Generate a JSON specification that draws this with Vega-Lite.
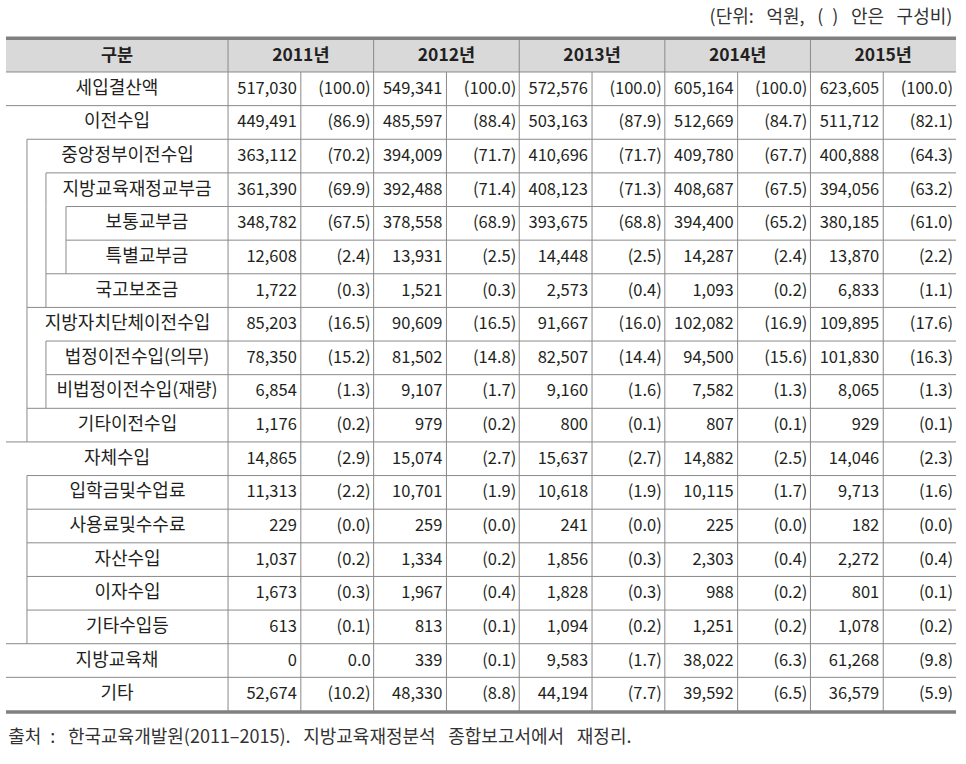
{
  "$schema": "https://vega.github.io/schema/vega-lite/v6.json",
  "width": 966,
  "height": 764,
  "autosize": {"type": "fit", "contains": "padding"},
  "padding": 0,
  "background": "white",
  "config": {"view": {"stroke": null}, "text": {"font": "Noto Sans CJK KR", "fontSize": 16.5, "color": "#231f20", "baseline": "middle"}},
  "datasets": {
    "rows": [
      {"i": 1, "label": "세입결산액", "level": 0},
      {"i": 2, "label": "이전수입", "level": 0},
      {"i": 3, "label": "중앙정부이전수입", "level": 1},
      {"i": 4, "label": "지방교육재정교부금", "level": 2},
      {"i": 5, "label": "보통교부금", "level": 3},
      {"i": 6, "label": "특별교부금", "level": 3},
      {"i": 7, "label": "국고보조금", "level": 2},
      {"i": 8, "label": "지방자치단체이전수입", "level": 1},
      {"i": 9, "label": "법정이전수입(의무)", "level": 2},
      {"i": 10, "label": "비법정이전수입(재량)", "level": 2},
      {"i": 11, "label": "기타이전수입", "level": 1},
      {"i": 12, "label": "자체수입", "level": 0},
      {"i": 13, "label": "입학금및수업료", "level": 1},
      {"i": 14, "label": "사용료및수수료", "level": 1},
      {"i": 15, "label": "자산수입", "level": 1},
      {"i": 16, "label": "이자수입", "level": 1},
      {"i": 17, "label": "기타수입등", "level": 1},
      {"i": 18, "label": "지방교육채", "level": 0},
      {"i": 19, "label": "기타", "level": 0}
    ],
    "years": [{"year": 2011}, {"year": 2012}, {"year": 2013}, {"year": 2014}, {"year": 2015}],
    "cells": [
      {"item": "세입결산액", "year": 2011, "amount": 517030, "share": 100.0},
      {"item": "세입결산액", "year": 2012, "amount": 549341, "share": 100.0},
      {"item": "세입결산액", "year": 2013, "amount": 572576, "share": 100.0},
      {"item": "세입결산액", "year": 2014, "amount": 605164, "share": 100.0},
      {"item": "세입결산액", "year": 2015, "amount": 623605, "share": 100.0},
      {"item": "이전수입", "year": 2011, "amount": 449491, "share": 86.9},
      {"item": "이전수입", "year": 2012, "amount": 485597, "share": 88.4},
      {"item": "이전수입", "year": 2013, "amount": 503163, "share": 87.9},
      {"item": "이전수입", "year": 2014, "amount": 512669, "share": 84.7},
      {"item": "이전수입", "year": 2015, "amount": 511712, "share": 82.1},
      {"item": "중앙정부이전수입", "year": 2011, "amount": 363112, "share": 70.2},
      {"item": "중앙정부이전수입", "year": 2012, "amount": 394009, "share": 71.7},
      {"item": "중앙정부이전수입", "year": 2013, "amount": 410696, "share": 71.7},
      {"item": "중앙정부이전수입", "year": 2014, "amount": 409780, "share": 67.7},
      {"item": "중앙정부이전수입", "year": 2015, "amount": 400888, "share": 64.3},
      {"item": "지방교육재정교부금", "year": 2011, "amount": 361390, "share": 69.9},
      {"item": "지방교육재정교부금", "year": 2012, "amount": 392488, "share": 71.4},
      {"item": "지방교육재정교부금", "year": 2013, "amount": 408123, "share": 71.3},
      {"item": "지방교육재정교부금", "year": 2014, "amount": 408687, "share": 67.5},
      {"item": "지방교육재정교부금", "year": 2015, "amount": 394056, "share": 63.2},
      {"item": "보통교부금", "year": 2011, "amount": 348782, "share": 67.5},
      {"item": "보통교부금", "year": 2012, "amount": 378558, "share": 68.9},
      {"item": "보통교부금", "year": 2013, "amount": 393675, "share": 68.8},
      {"item": "보통교부금", "year": 2014, "amount": 394400, "share": 65.2},
      {"item": "보통교부금", "year": 2015, "amount": 380185, "share": 61.0},
      {"item": "특별교부금", "year": 2011, "amount": 12608, "share": 2.4},
      {"item": "특별교부금", "year": 2012, "amount": 13931, "share": 2.5},
      {"item": "특별교부금", "year": 2013, "amount": 14448, "share": 2.5},
      {"item": "특별교부금", "year": 2014, "amount": 14287, "share": 2.4},
      {"item": "특별교부금", "year": 2015, "amount": 13870, "share": 2.2},
      {"item": "국고보조금", "year": 2011, "amount": 1722, "share": 0.3},
      {"item": "국고보조금", "year": 2012, "amount": 1521, "share": 0.3},
      {"item": "국고보조금", "year": 2013, "amount": 2573, "share": 0.4},
      {"item": "국고보조금", "year": 2014, "amount": 1093, "share": 0.2},
      {"item": "국고보조금", "year": 2015, "amount": 6833, "share": 1.1},
      {"item": "지방자치단체이전수입", "year": 2011, "amount": 85203, "share": 16.5},
      {"item": "지방자치단체이전수입", "year": 2012, "amount": 90609, "share": 16.5},
      {"item": "지방자치단체이전수입", "year": 2013, "amount": 91667, "share": 16.0},
      {"item": "지방자치단체이전수입", "year": 2014, "amount": 102082, "share": 16.9},
      {"item": "지방자치단체이전수입", "year": 2015, "amount": 109895, "share": 17.6},
      {"item": "법정이전수입(의무)", "year": 2011, "amount": 78350, "share": 15.2},
      {"item": "법정이전수입(의무)", "year": 2012, "amount": 81502, "share": 14.8},
      {"item": "법정이전수입(의무)", "year": 2013, "amount": 82507, "share": 14.4},
      {"item": "법정이전수입(의무)", "year": 2014, "amount": 94500, "share": 15.6},
      {"item": "법정이전수입(의무)", "year": 2015, "amount": 101830, "share": 16.3},
      {"item": "비법정이전수입(재량)", "year": 2011, "amount": 6854, "share": 1.3},
      {"item": "비법정이전수입(재량)", "year": 2012, "amount": 9107, "share": 1.7},
      {"item": "비법정이전수입(재량)", "year": 2013, "amount": 9160, "share": 1.6},
      {"item": "비법정이전수입(재량)", "year": 2014, "amount": 7582, "share": 1.3},
      {"item": "비법정이전수입(재량)", "year": 2015, "amount": 8065, "share": 1.3},
      {"item": "기타이전수입", "year": 2011, "amount": 1176, "share": 0.2},
      {"item": "기타이전수입", "year": 2012, "amount": 979, "share": 0.2},
      {"item": "기타이전수입", "year": 2013, "amount": 800, "share": 0.1},
      {"item": "기타이전수입", "year": 2014, "amount": 807, "share": 0.1},
      {"item": "기타이전수입", "year": 2015, "amount": 929, "share": 0.1},
      {"item": "자체수입", "year": 2011, "amount": 14865, "share": 2.9},
      {"item": "자체수입", "year": 2012, "amount": 15074, "share": 2.7},
      {"item": "자체수입", "year": 2013, "amount": 15637, "share": 2.7},
      {"item": "자체수입", "year": 2014, "amount": 14882, "share": 2.5},
      {"item": "자체수입", "year": 2015, "amount": 14046, "share": 2.3},
      {"item": "입학금및수업료", "year": 2011, "amount": 11313, "share": 2.2},
      {"item": "입학금및수업료", "year": 2012, "amount": 10701, "share": 1.9},
      {"item": "입학금및수업료", "year": 2013, "amount": 10618, "share": 1.9},
      {"item": "입학금및수업료", "year": 2014, "amount": 10115, "share": 1.7},
      {"item": "입학금및수업료", "year": 2015, "amount": 9713, "share": 1.6},
      {"item": "사용료및수수료", "year": 2011, "amount": 229, "share": 0.0},
      {"item": "사용료및수수료", "year": 2012, "amount": 259, "share": 0.0},
      {"item": "사용료및수수료", "year": 2013, "amount": 241, "share": 0.0},
      {"item": "사용료및수수료", "year": 2014, "amount": 225, "share": 0.0},
      {"item": "사용료및수수료", "year": 2015, "amount": 182, "share": 0.0},
      {"item": "자산수입", "year": 2011, "amount": 1037, "share": 0.2},
      {"item": "자산수입", "year": 2012, "amount": 1334, "share": 0.2},
      {"item": "자산수입", "year": 2013, "amount": 1856, "share": 0.3},
      {"item": "자산수입", "year": 2014, "amount": 2303, "share": 0.4},
      {"item": "자산수입", "year": 2015, "amount": 2272, "share": 0.4},
      {"item": "이자수입", "year": 2011, "amount": 1673, "share": 0.3},
      {"item": "이자수입", "year": 2012, "amount": 1967, "share": 0.4},
      {"item": "이자수입", "year": 2013, "amount": 1828, "share": 0.3},
      {"item": "이자수입", "year": 2014, "amount": 988, "share": 0.2},
      {"item": "이자수입", "year": 2015, "amount": 801, "share": 0.1},
      {"item": "기타수입등", "year": 2011, "amount": 613, "share": 0.1},
      {"item": "기타수입등", "year": 2012, "amount": 813, "share": 0.1},
      {"item": "기타수입등", "year": 2013, "amount": 1094, "share": 0.2},
      {"item": "기타수입등", "year": 2014, "amount": 1251, "share": 0.2},
      {"item": "기타수입등", "year": 2015, "amount": 1078, "share": 0.2},
      {"item": "지방교육채", "year": 2011, "amount": 0, "share": 0.0},
      {"item": "지방교육채", "year": 2012, "amount": 339, "share": 0.1},
      {"item": "지방교육채", "year": 2013, "amount": 9583, "share": 1.7},
      {"item": "지방교육채", "year": 2014, "amount": 38022, "share": 6.3},
      {"item": "지방교육채", "year": 2015, "amount": 61268, "share": 9.8},
      {"item": "기타", "year": 2011, "amount": 52674, "share": 10.2},
      {"item": "기타", "year": 2012, "amount": 48330, "share": 8.8},
      {"item": "기타", "year": 2013, "amount": 44194, "share": 7.7},
      {"item": "기타", "year": 2014, "amount": 39592, "share": 6.5},
      {"item": "기타", "year": 2015, "amount": 36579, "share": 5.9}
    ]
  },
  "layer": [
    {
      "data": {"values": [{}]},
      "mark": {"type": "rect", "color": "#d9d9d9"},
      "encoding": {
        "x": {"datum": 0, "type": "quantitative", "scale": {"domain": [-0.0824, 13.1868], "nice": false, "zero": false}, "axis": null},
        "x2": {"datum": 13.05},
        "y": {"datum": -0.95, "type": "quantitative", "scale": {"domain": [-2.1409, 20.577], "reverse": true, "nice": false, "zero": false}, "axis": null},
        "y2": {"datum": 0}
      }
    },
    {
      "data": {"name": "rows"},
      "transform": [
        {"calculate": "datum.level==0?0:datum.level==1?0.288:datum.level==2?0.549:0.824", "as": "lx"},
        {"calculate": "datum.i-1", "as": "top"}
      ],
      "mark": {"type": "rule", "color": "#8a8a8a", "strokeWidth": 1},
      "encoding": {
        "x": {"field": "lx", "type": "quantitative", "scale": {"domain": [-0.0824, 13.1868], "nice": false, "zero": false}, "axis": null},
        "x2": {"datum": 13.05},
        "y": {"field": "top", "type": "quantitative", "scale": {"domain": [-2.1409, 20.577], "reverse": true, "nice": false, "zero": false}, "axis": null}
      }
    },
    {
      "data": {"name": "rows"},
      "transform": [
        {"filter": "datum.level>=1"},
        {"calculate": "datum.i-1", "as": "top"}
      ],
      "mark": {"type": "rule", "color": "#8a8a8a", "strokeWidth": 1},
      "encoding": {
        "x": {"datum": 0.288, "type": "quantitative", "scale": {"domain": [-0.0824, 13.1868], "nice": false, "zero": false}, "axis": null},
        "y": {"field": "top", "type": "quantitative", "scale": {"domain": [-2.1409, 20.577], "reverse": true, "nice": false, "zero": false}, "axis": null},
        "y2": {"field": "i"}
      }
    },
    {
      "data": {"name": "rows"},
      "transform": [
        {"filter": "datum.level>=2"},
        {"calculate": "datum.i-1", "as": "top"}
      ],
      "mark": {"type": "rule", "color": "#8a8a8a", "strokeWidth": 1},
      "encoding": {
        "x": {"datum": 0.549, "type": "quantitative", "scale": {"domain": [-0.0824, 13.1868], "nice": false, "zero": false}, "axis": null},
        "y": {"field": "top", "type": "quantitative", "scale": {"domain": [-2.1409, 20.577], "reverse": true, "nice": false, "zero": false}, "axis": null},
        "y2": {"field": "i"}
      }
    },
    {
      "data": {"name": "rows"},
      "transform": [
        {"filter": "datum.level>=3"},
        {"calculate": "datum.i-1", "as": "top"}
      ],
      "mark": {"type": "rule", "color": "#8a8a8a", "strokeWidth": 1},
      "encoding": {
        "x": {"datum": 0.824, "type": "quantitative", "scale": {"domain": [-0.0824, 13.1868], "nice": false, "zero": false}, "axis": null},
        "y": {"field": "top", "type": "quantitative", "scale": {"domain": [-2.1409, 20.577], "reverse": true, "nice": false, "zero": false}, "axis": null},
        "y2": {"field": "i"}
      }
    },
    {
      "data": {"name": "years"},
      "transform": [{"calculate": "3.05 + 2*(datum.year-2011)", "as": "xa"}],
      "mark": {"type": "rule", "color": "#8a8a8a", "strokeWidth": 1},
      "encoding": {
        "x": {"field": "xa", "type": "quantitative", "scale": {"domain": [-0.0824, 13.1868], "nice": false, "zero": false}, "axis": null},
        "y": {"datum": -0.95, "type": "quantitative", "scale": {"domain": [-2.1409, 20.577], "reverse": true, "nice": false, "zero": false}, "axis": null},
        "y2": {"datum": 19}
      }
    },
    {
      "data": {"name": "years"},
      "transform": [{"calculate": "4.05 + 2*(datum.year-2011)", "as": "xb"}],
      "mark": {"type": "rule", "color": "#8a8a8a", "strokeWidth": 1},
      "encoding": {
        "x": {"field": "xb", "type": "quantitative", "scale": {"domain": [-0.0824, 13.1868], "nice": false, "zero": false}, "axis": null},
        "y": {"datum": 0, "type": "quantitative", "scale": {"domain": [-2.1409, 20.577], "reverse": true, "nice": false, "zero": false}, "axis": null},
        "y2": {"datum": 19}
      }
    },
    {
      "data": {"values": [{}]},
      "mark": {"type": "rule", "color": "#808080", "strokeWidth": 3.5},
      "encoding": {
        "x": {"datum": 0, "type": "quantitative", "scale": {"domain": [-0.0824, 13.1868], "nice": false, "zero": false}, "axis": null},
        "x2": {"datum": 13.05},
        "y": {"datum": -1.0, "type": "quantitative", "scale": {"domain": [-2.1409, 20.577], "reverse": true, "nice": false, "zero": false}, "axis": null}
      }
    },
    {
      "data": {"values": [{}]},
      "mark": {"type": "rule", "color": "#808080", "strokeWidth": 3.5},
      "encoding": {
        "x": {"datum": 0, "type": "quantitative", "scale": {"domain": [-0.0824, 13.1868], "nice": false, "zero": false}, "axis": null},
        "x2": {"datum": 13.05},
        "y": {"datum": 19.03, "type": "quantitative", "scale": {"domain": [-2.1409, 20.577], "reverse": true, "nice": false, "zero": false}, "axis": null}
      }
    },
    {
      "data": {"name": "years"},
      "transform": [
        {"calculate": "4.05 + 2*(datum.year-2011)", "as": "xc"},
        {"calculate": "datum.year + '년'", "as": "ylabel"}
      ],
      "mark": {"type": "text", "fontWeight": "bold", "fontSize": 17.5, "align": "center"},
      "encoding": {
        "x": {"field": "xc", "type": "quantitative", "scale": {"domain": [-0.0824, 13.1868], "nice": false, "zero": false}, "axis": null},
        "y": {"datum": -0.47, "type": "quantitative", "scale": {"domain": [-2.1409, 20.577], "reverse": true, "nice": false, "zero": false}, "axis": null},
        "text": {"field": "ylabel"}
      }
    },
    {
      "data": {"values": [{"h": "구분"}]},
      "mark": {"type": "text", "fontWeight": "bold", "fontSize": 17.5, "align": "center"},
      "encoding": {
        "x": {"datum": 1.525, "type": "quantitative", "scale": {"domain": [-0.0824, 13.1868], "nice": false, "zero": false}, "axis": null},
        "y": {"datum": -0.47, "type": "quantitative", "scale": {"domain": [-2.1409, 20.577], "reverse": true, "nice": false, "zero": false}, "axis": null},
        "text": {"field": "h"}
      }
    },
    {
      "data": {"name": "rows"},
      "transform": [
        {"calculate": "((datum.level==0?0:datum.level==1?0.288:datum.level==2?0.549:0.824) + 3.05)/2", "as": "cx"},
        {"calculate": "datum.i-0.5", "as": "mid"}
      ],
      "mark": {"type": "text", "align": "center", "fontSize": 18},
      "encoding": {
        "x": {"field": "cx", "type": "quantitative", "scale": {"domain": [-0.0824, 13.1868], "nice": false, "zero": false}, "axis": null},
        "y": {"field": "mid", "type": "quantitative", "scale": {"domain": [-2.1409, 20.577], "reverse": true, "nice": false, "zero": false}, "axis": null},
        "text": {"field": "label"}
      }
    },
    {
      "data": {"name": "cells"},
      "transform": [
        {"lookup": "item", "from": {"data": {"name": "rows"}, "key": "label", "fields": ["i"]}},
        {"calculate": "4.05 + 2*(datum.year-2011)", "as": "xr"},
        {"calculate": "datum.i-0.5", "as": "mid"}
      ],
      "mark": {"type": "text", "align": "right", "dx": -4},
      "encoding": {
        "x": {"field": "xr", "type": "quantitative", "scale": {"domain": [-0.0824, 13.1868], "nice": false, "zero": false}, "axis": null},
        "y": {"field": "mid", "type": "quantitative", "scale": {"domain": [-2.1409, 20.577], "reverse": true, "nice": false, "zero": false}, "axis": null},
        "text": {"field": "amount", "type": "quantitative", "format": ","}
      }
    },
    {
      "data": {"name": "cells"},
      "transform": [
        {"lookup": "item", "from": {"data": {"name": "rows"}, "key": "label", "fields": ["i"]}},
        {"calculate": "5.05 + 2*(datum.year-2011)", "as": "xr"},
        {"calculate": "datum.i-0.5", "as": "mid"},
        {"calculate": "datum.amount==0 ? format(datum.share,'.1f') : '(' + format(datum.share,'.1f') + ')'", "as": "pct"}
      ],
      "mark": {"type": "text", "align": "right", "dx": -3},
      "encoding": {
        "x": {"field": "xr", "type": "quantitative", "scale": {"domain": [-0.0824, 13.1868], "nice": false, "zero": false}, "axis": null},
        "y": {"field": "mid", "type": "quantitative", "scale": {"domain": [-2.1409, 20.577], "reverse": true, "nice": false, "zero": false}, "axis": null},
        "text": {"field": "pct"}
      }
    },
    {
      "data": {"values": [{"t": "(단위:\u2002\u2009억원,\u2002\u2009(\u2002)\u2002\u2009안은\u2002\u2009구성비)"}]},
      "mark": {"type": "text", "align": "right", "fontSize": 18, "color": "#333333"},
      "encoding": {
        "x": {"datum": 13.0, "type": "quantitative", "scale": {"domain": [-0.0824, 13.1868], "nice": false, "zero": false}, "axis": null},
        "y": {"datum": -1.6, "type": "quantitative", "scale": {"domain": [-2.1409, 20.577], "reverse": true, "nice": false, "zero": false}, "axis": null},
        "text": {"field": "t"}
      }
    },
    {
      "data": {"values": [{"t": "출처\u2002:\u2002\u2009한국교육개발원(2011–2015).\u2002\u2009지방교육재정분석\u2002\u2009종합보고서에서\u2002\u2009재정리."}]},
      "mark": {"type": "text", "align": "left", "fontSize": 18, "color": "#333333"},
      "encoding": {
        "x": {"datum": 0.03, "type": "quantitative", "scale": {"domain": [-0.0824, 13.1868], "nice": false, "zero": false}, "axis": null},
        "y": {"datum": 19.8, "type": "quantitative", "scale": {"domain": [-2.1409, 20.577], "reverse": true, "nice": false, "zero": false}, "axis": null},
        "text": {"field": "t"}
      }
    }
  ]
}
